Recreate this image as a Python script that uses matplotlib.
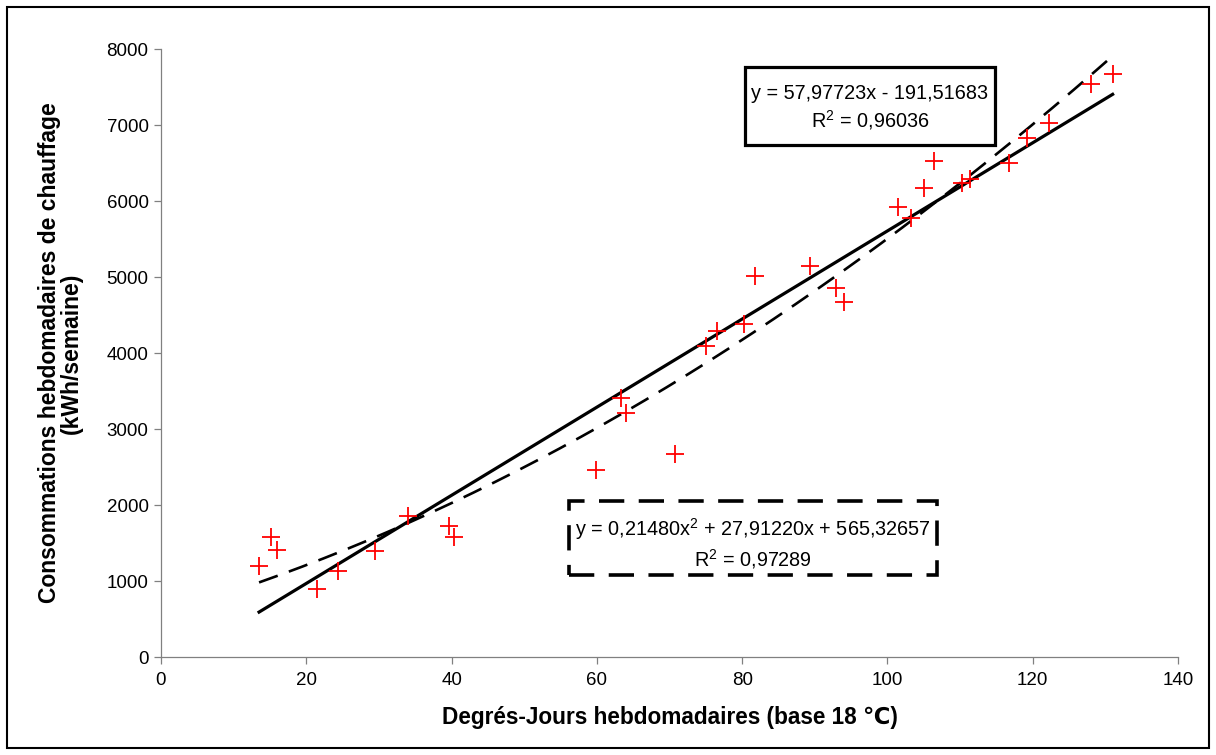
import numpy as np
import matplotlib
matplotlib.use('Agg')
import matplotlib.pyplot as plt
from matplotlib.patches import Rectangle

plt.rcParams['font.family'] = ['Liberation Sans', 'DejaVu Sans']
plt.rcParams['mathtext.fontset'] = 'custom'
plt.rcParams['mathtext.rm'] = 'Liberation Sans'
plt.rcParams['mathtext.it'] = 'Liberation Sans:italic'
plt.rcParams['mathtext.bf'] = 'Liberation Sans:bold'

# degres-jours hebdomadaires et consommations (kWh/semaine)
dj = [13.5, 15.2, 16.0, 21.5, 24.3, 29.5, 34.0, 39.6, 40.3, 59.9, 63.3, 64.0,
      70.7, 75.0, 76.5, 80.3, 81.8, 89.4, 92.9, 94.0, 101.5, 103.2, 105.0,
      106.4, 110.3, 111.3, 116.8, 119.2, 122.2, 128.0, 131.0]
conso = [1200, 1575, 1410, 900, 1135, 1395, 1860, 1725, 1585, 2455, 3410, 3205,
         2665, 4090, 4290, 4380, 5015, 5150, 4850, 4665, 5925, 5780, 6170,
         6520, 6240, 6285, 6505, 6825, 7020, 7535, 7665]

# coefficients des courbes de tendance
lin_coef = [57.97723, -191.51683]
lin_r2 = '0,96036'
quad_coef = [0.21480, 27.91220, 565.32657]
quad_r2 = '0,97289'

fig = plt.figure(figsize=(12.16, 7.55), dpi=100)
ax = fig.add_axes([161/1216, 1 - 657/755, (1178 - 161)/1216, (657 - 49)/755])

xs = np.linspace(min(dj), max(dj), 200)
ax.plot(xs, np.polyval(lin_coef, xs), color='black', lw=2.3, zorder=2)
ax.plot(xs, np.polyval(quad_coef, xs), color='black', lw=1.9,
        dashes=(7.5, 4.5), zorder=2)
ax.plot(dj, conso, '+', color='red', ms=13, mew=1.3, zorder=3)

ax.set_xlim(0, 140)
ax.set_ylim(0, 8000)
ax.set_xticks(range(0, 141, 20))
ax.set_yticks(range(0, 8001, 1000))
for s in ['top', 'right']:
    ax.spines[s].set_visible(False)
for s in ['left', 'bottom']:
    ax.spines[s].set_color('#808080')
    ax.spines[s].set_linewidth(0.9)
ax.tick_params(direction='out', length=5, width=0.9, color='#808080',
               labelsize=13.5, pad=4)
ax.tick_params(axis='x', pad=6)

ax.set_xlabel('Degrés-Jours hebdomadaires (base 18 ℃)', fontsize=16.3,
              fontweight='bold', labelpad=12)
ax.set_ylabel('Consommations hebdomadaires de chauffage\n(kWh/semaine)',
              fontsize=16.5, fontweight='bold', labelpad=17, linespacing=0.95)

# boite de l'equation lineaire
ax.add_patch(Rectangle((0.5743, 0.8421), 0.2458, 0.1283, transform=ax.transAxes,
                       fc='white', ec='black', lw=2.3, zorder=4))
ax.text(0.697, 0.903, 'y = 57,97723x - 191,51683\nR$^{2}$ = ' + lin_r2,
        transform=ax.transAxes, ha='center', va='center', fontsize=14.3,
        linespacing=1.25, zorder=5)

# boite de l'equation polynomiale
ax.add_patch(Rectangle((0.4012, 0.1349), 0.3618, 0.1217, transform=ax.transAxes,
                       fc='white', ec='black', lw=2.6, ls=(0, (7, 4)),
                       zorder=4))
ax.text(0.5821, 0.1867,
        'y = 0,21480x$^{2}$ + 27,91220x + 565,32657\nR$^{2}$ = ' + quad_r2,
        transform=ax.transAxes, ha='center', va='center', fontsize=14.3,
        linespacing=1.25, zorder=5)

fig.patches.append(Rectangle((7/1216, 7/755), 1202/1216, 741/755,
                             transform=fig.transFigure, fill=False,
                             ec='black', lw=1.5))

fig.savefig('out.png', dpi=100)
